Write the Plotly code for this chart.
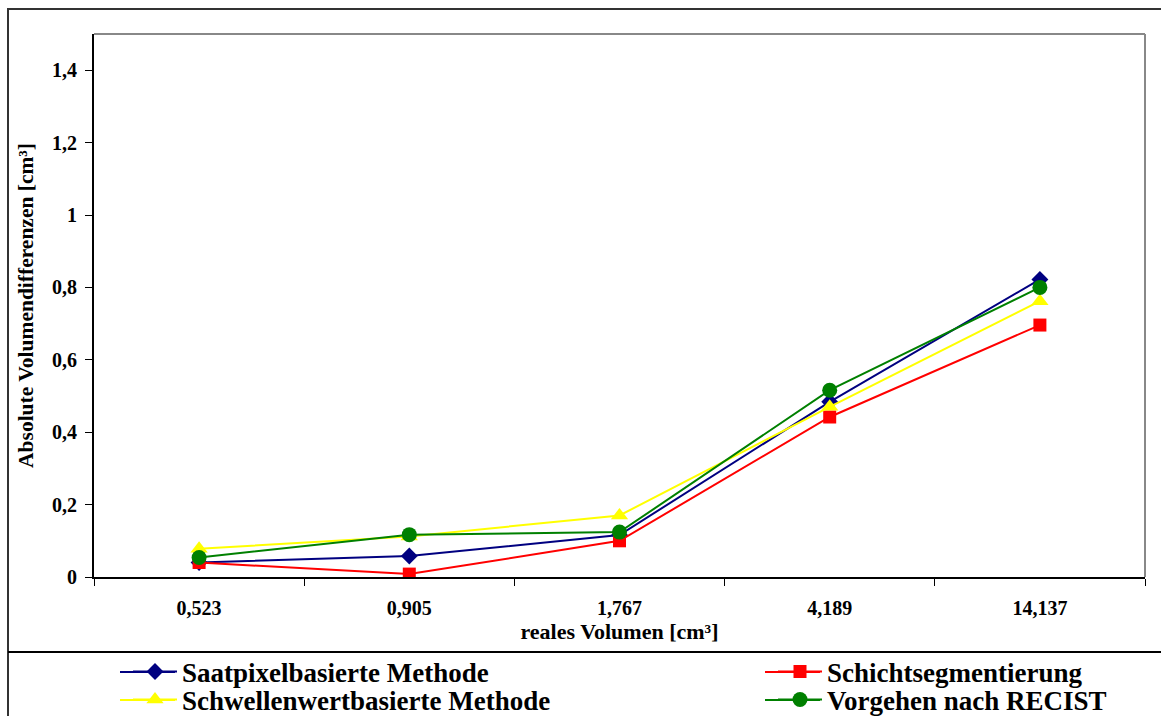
import plotly.graph_objects as go

# Real tumour volumes (category labels on the x axis)
volumes = ["0,523", "0,905", "1,767", "4,189", "14,137"]

# Absolute volume differences [cm³] per segmentation method
saatpixel = [0.040, 0.058, 0.116, 0.484, 0.822]
schicht = [0.040, 0.008, 0.100, 0.442, 0.696]
schwellen = [0.078, 0.112, 0.170, 0.470, 0.762]
recist = [0.054, 0.117, 0.124, 0.516, 0.800]

FONT = "Liberation Serif, Times New Roman, serif"
W, H = 1161, 716
L, R, T, B = 94, 1145, 34, 577  # plot area in pixels


def px(x):
    return (x - L) / (R - L)


def py(y):
    return (B - y) / (B - T)


# name, values, colour, symbol, size, legend id, legend key centre (x, y in px)
series = [
    ("Saatpixelbasierte Methode", saatpixel, "#000080", "diamond", 13, "legend", (148, 672)),
    ("Schichtsegmentierung", schicht, "#FF0000", "square", 13, "legend2", (793, 672)),
    ("Schwellenwertbasierte Methode", schwellen, "#FFFF00", "triangle-up", 15, "legend3", (148, 700)),
    ("Vorgehen nach RECIST", recist, "#008000", "circle", 15, "legend4", (793, 700)),
]

fig = go.Figure()
legend_font = dict(family=FONT, size=27, color="black")
legends = {}
for name, vals, color, symbol, size, leg, (kx, ky) in series:
    fig.add_trace(go.Scatter(
        x=volumes, y=vals, name=f"<b>{name}</b>", mode="lines+markers",
        line=dict(color=color, width=2),
        marker=dict(color=color, symbol=symbol, size=size),
        legend=leg,
    ))
    legends[leg] = dict(
        x=px(kx - 20), y=py(ky), xanchor="left", yanchor="middle",
        orientation="v", font=legend_font, itemwidth=44,
        bgcolor="rgba(0,0,0,0)", borderwidth=0,
    )
    # longer key line behind the legend marker
    fig.add_shape(type="line", xref="paper", yref="paper",
                  x0=px(kx - 28), x1=px(kx + 27), y0=py(ky), y1=py(ky),
                  line=dict(color=color, width=2))

fig.update_layout(
    width=W, height=H,
    margin=dict(l=L, r=W - R, t=T, b=H - B, autoexpand=False),
    paper_bgcolor="white", plot_bgcolor="white",
    separators=", ",
    font=dict(family=FONT, color="black"),
    showlegend=True,
    **legends,
    xaxis=dict(
        type="category", range=[-0.5, 4.5], automargin=False,
        showgrid=False, zeroline=False,
        showline=True, linecolor="black", linewidth=2,
        ticks="outside", ticklen=7, tickcolor="black", tickwidth=1,
        tickson="boundaries",
        tickfont=dict(family=FONT, size=20, color="black"),
        title=dict(text="<b>reales Volumen [cm³]</b>",
                   font=dict(family=FONT, size=22, color="black"), standoff=3),
        ticklabelstandoff=12,
    ),
    yaxis=dict(
        range=[0, 1.5], automargin=False,
        showgrid=False, zeroline=False,
        showline=True, linecolor="black", linewidth=2,
        ticks="outside", ticklen=7, tickcolor="black", tickwidth=1,
        tickfont=dict(family=FONT, size=20, color="black"),
        ticklabelstandoff=4,
        title=dict(text="<b>Absolute Volumendifferenzen [cm³]</b>",
                   font=dict(family=FONT, size=21.5, color="black"), standoff=12),
    ),
)

# Bold tick labels
fig.update_xaxes(tickvals=volumes, ticktext=[f"<b>{v}</b>" for v in volumes])
yt = [0, 0.2, 0.4, 0.6, 0.8, 1.0, 1.2, 1.4]
fig.update_yaxes(tickvals=yt,
                 ticktext=[f"<b>{('%g' % v).replace('.', ',')}</b>" for v in yt])

# Grey frame on the top and right of the plot area
fig.add_shape(type="line", xref="paper", yref="paper", x0=0, x1=1, y0=1, y1=1,
              line=dict(color="#888888", width=2))
fig.add_shape(type="line", xref="paper", yref="paper", x0=1, x1=1, y0=0, y1=1,
              line=dict(color="#888888", width=2))

# Outer chart border and the separator above the legend
fig.add_shape(type="rect", xref="paper", yref="paper",
              x0=px(8), x1=px(1175), y0=py(9), y1=py(730),
              line=dict(color="#333333", width=2), layer="below")
fig.add_shape(type="line", xref="paper", yref="paper",
              x0=px(8), x1=px(1175), y0=py(652), y1=py(652),
              line=dict(color="black", width=2))

fig.write_html("out.html")
